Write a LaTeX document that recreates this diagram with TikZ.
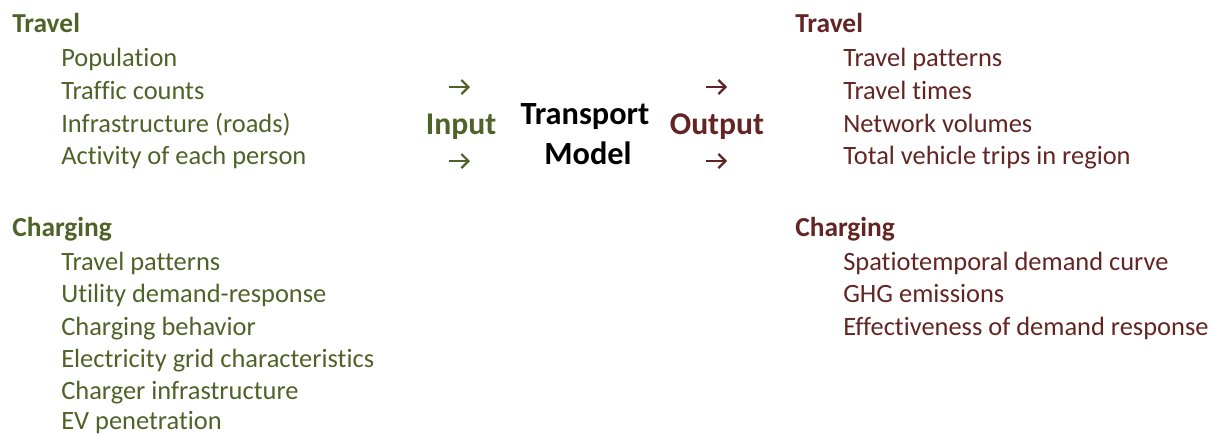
\documentclass[tikz,border=0pt]{standalone}
\usepackage{fontspec}
\setmainfont[Ligatures=NoCommon]{Carlito}
\usetikzlibrary{arrows.meta}
\definecolor{ingreen}{HTML}{4F6228}
\definecolor{outred}{HTML}{632523}
\tikzset{
	item/.style={anchor=base west, inner sep=0pt, font=\fontsize{18.8}{22}\selectfont},
	head/.style={item, font=\fontsize{19.5}{23}\selectfont\bfseries},
	arr/.style={-{Straight Barb[length=5pt,width=10pt]}, line width=1.6pt}
}
\begin{document}
\begin{tikzpicture}[x=0.025cm, y=-0.025cm]
		\useasboundingbox (0,0) rectangle (1213,435);
		% dati in ingresso
		\node[head, ingreen] (inTravel) at (12,32) {Travel};
		\node[item, ingreen] (inPop) at (61,66) {Population};
		\node[item, ingreen] (inCounts) at (61,99) {Traffic counts};
		\node[item, ingreen] (inRoads) at (61,132) {Infrastructure (roads)};
		\node[item, ingreen] (inActivity) at (61,164) {Activity of each person};
		\node[head, ingreen] (inCharging) at (12,236) {Charging};
		\node[item, ingreen] (inPatterns) at (61,270) {Travel patterns};
		\node[item, ingreen] (inUtility) at (61,302) {Utility demand-response};
		\node[item, ingreen] (inBehavior) at (61,335) {Charging behavior};
		\node[item, ingreen] (inGrid) at (61,367) {Electricity grid characteristics};
		\node[item, ingreen] (inCharger) at (61,399) {Charger infrastructure};
		\node[item, ingreen] (inEV) at (61,429) {EV penetration};
		% modello al centro
		\node[anchor=base, inner sep=0pt, ingreen, font=\fontsize{22.5}{26}\selectfont\bfseries] (input) at (461,134) {Input};
		\node[anchor=base, inner sep=0pt, font=\fontsize{23}{27}\selectfont\bfseries] (transport) at (585,124) {Transport};
		\node[anchor=base, inner sep=0pt, font=\fontsize{23}{27}\selectfont\bfseries] (model) at (588,164) {Model};
		\node[anchor=base, inner sep=0pt, outred, font=\fontsize{22.5}{26}\selectfont\bfseries] (output) at (717,134) {Output};
		% frecce
		\coordinate (inA1) at (449,87);
		\coordinate (inA2) at (470,87);
		\coordinate (inB1) at (449,161);
		\coordinate (inB2) at (470,161);
		\coordinate (outA1) at (706,87);
		\coordinate (outA2) at (727,87);
		\coordinate (outB1) at (706,161);
		\coordinate (outB2) at (727,161);
		\draw[arr, ingreen] (inA1) -- (inA2);
		\draw[arr, ingreen] (inB1) -- (inB2);
		\draw[arr, outred] (outA1) -- (outA2);
		\draw[arr, outred] (outB1) -- (outB2);
		% risultati
		\node[head, outred] (outTravel) at (795,32) {Travel};
		\node[item, outred] (outPatterns) at (843,66) {Travel patterns};
		\node[item, outred] (outTimes) at (843,99) {Travel times};
		\node[item, outred] (outVolumes) at (843,132) {Network volumes};
		\node[item, outred] (outTrips) at (843,164) {Total vehicle trips in region};
		\node[head, outred] (outCharging) at (795,236) {Charging};
		\node[item, outred] (outCurve) at (843,270) {Spatiotemporal demand curve};
		\node[item, outred] (outGHG) at (843,302) {GHG emissions};
		\node[item, outred] (outResponse) at (843,335) {Effectiveness of demand response};
	\end{tikzpicture}
\end{document}
